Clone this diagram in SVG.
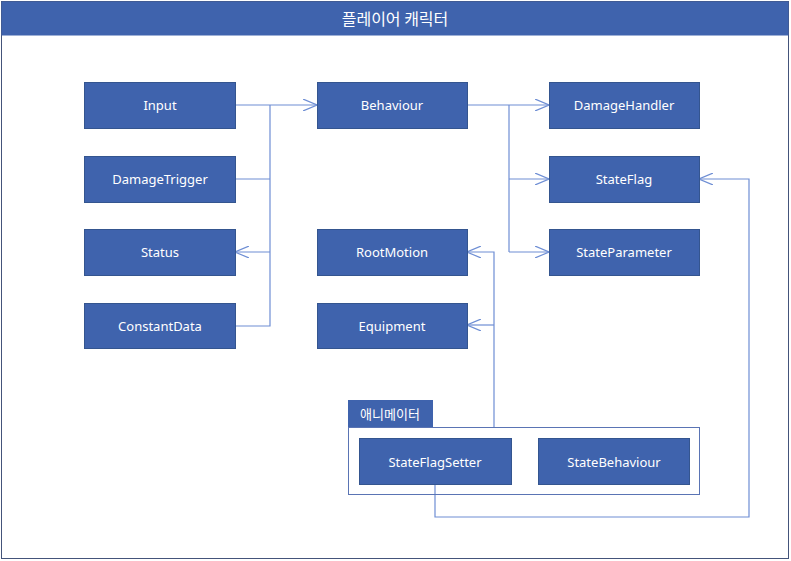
<svg xmlns="http://www.w3.org/2000/svg" width="791" height="561" viewBox="0 0 791 561">
<defs>
<style>
.node{fill:#3F63AD;stroke:#34558F;stroke-width:1}
.lbl{fill:#ffffff;font-family:"Segoe UI","Noto Sans","Noto Sans CJK KR",sans-serif;font-size:13px;text-anchor:middle;dominant-baseline:central}
.con{fill:none;stroke:#6E8ED4;stroke-width:1.2}
</style>
<marker id="arr" viewBox="0 0 14 12" refX="14" refY="6" markerWidth="14" markerHeight="12" markerUnits="userSpaceOnUse" orient="auto">
<path d="M0,0 L14,6 L0,12" fill="none" stroke="#6E8ED4" stroke-width="1.2"/>
</marker>
</defs>
<rect x="0" y="0" width="791" height="561" fill="#ffffff"/>
<g id="frame">
<rect x="1.5" y="1.5" width="787" height="557" fill="#ffffff" stroke="#44547A" stroke-width="1"/>
<rect x="1.5" y="1.5" width="787" height="34" fill="#3F63AD"/>
<text x="395" y="18" class="lbl" style="font-size:16px;font-family:'Noto Sans CJK KR',sans-serif">플레이어 캐릭터</text>
</g>
<g id="connectors">
<path class="con" d="M235,105 H317" marker-end="url(#arr)"/>
<path class="con" d="M270,105 V326 H235"/>
<path class="con" d="M270,179 H235"/>
<path class="con" d="M270,252 H235" marker-end="url(#arr)"/>
<path class="con" d="M467,105 H549" marker-end="url(#arr)"/>
<path class="con" d="M509,105 V252"/>
<path class="con" d="M509,179 H549" marker-end="url(#arr)"/>
<path class="con" d="M509,252 H549" marker-end="url(#arr)"/>
<path class="con" d="M494,427 V252 H467" marker-end="url(#arr)"/>
<path class="con" d="M494,325 H467" marker-end="url(#arr)"/>
<path class="con" d="M435,485 V517 H749 V179 H699" marker-end="url(#arr)"/>
</g>
<g id="animator">
<rect x="348" y="400" width="85" height="27" fill="#3F63AD"/>
<text x="390" y="413" class="lbl" style="font-family:'Noto Sans CJK KR',sans-serif;font-size:13px">애니메이터</text>
<rect x="348.5" y="427.5" width="351" height="67" fill="none" stroke="#5A74B4" stroke-width="1"/>
</g>
<g id="n-input"><rect class="node" x="84.5" y="82.5" width="151" height="46"/><text class="lbl" x="160" y="105">Input</text></g>
<g id="n-damagetrigger"><rect class="node" x="84.5" y="156.5" width="151" height="46"/><text class="lbl" x="160" y="179">DamageTrigger</text></g>
<g id="n-status"><rect class="node" x="84.5" y="229.5" width="151" height="46"/><text class="lbl" x="160" y="252">Status</text></g>
<g id="n-constantdata"><rect class="node" x="84.5" y="303.5" width="151" height="45"/><text class="lbl" x="160" y="326">ConstantData</text></g>
<g id="n-behaviour"><rect class="node" x="317.5" y="82.5" width="150" height="46"/><text class="lbl" x="392" y="105">Behaviour</text></g>
<g id="n-rootmotion"><rect class="node" x="317.5" y="229.5" width="150" height="46"/><text class="lbl" x="392" y="252">RootMotion</text></g>
<g id="n-equipment"><rect class="node" x="317.5" y="303.5" width="150" height="45"/><text class="lbl" x="392" y="326">Equipment</text></g>
<g id="n-damagehandler"><rect class="node" x="549.5" y="82.5" width="150" height="46"/><text class="lbl" x="624" y="105">DamageHandler</text></g>
<g id="n-stateflag"><rect class="node" x="549.5" y="156.5" width="150" height="46"/><text class="lbl" x="624" y="179">StateFlag</text></g>
<g id="n-stateparameter"><rect class="node" x="549.5" y="229.5" width="150" height="46"/><text class="lbl" x="624" y="252">StateParameter</text></g>
<g id="n-stateflagsetter"><rect class="node" x="359.5" y="438.5" width="152" height="46"/><text class="lbl" x="435" y="462">StateFlagSetter</text></g>
<g id="n-statebehaviour"><rect class="node" x="538.5" y="438.5" width="151" height="46"/><text class="lbl" x="614" y="462">StateBehaviour</text></g>
</svg>
